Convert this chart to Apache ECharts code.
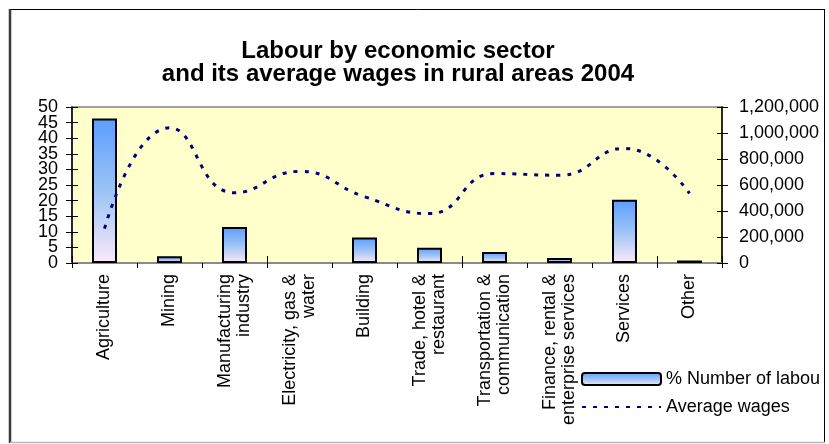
<!DOCTYPE html>
<html>
<head>
<meta charset="utf-8">
<script src="https://cdn.jsdelivr.net/npm/echarts@6/dist/echarts.min.js"></script>
<style>
  html, body { margin: 0; padding: 0; background: #ffffff; }
  #chart { width: 829px; height: 444px; }
</style>
</head>
<body>
<div id="chart"></div>
<script>
// Sectors shown along the category axis
const sectors = [
  'Agriculture',
  'Mining',
  'Manufacturing\nindustry',
  'Electricity, gas &\nwater',
  'Building',
  'Trade, hotel &\nrestaurant',
  'Transportation &\ncommunication',
  'Finance, rental &\nenterprise services',
  'Services',
  'Other'
];

// Share of rural labour force per sector (%)
const labourShare = [46.3, 2.2, 11.5, 0, 8.2, 4.9, 3.5, 1.6, 20.3, 0.8];

// Average wages per sector
const averageWages = [265000, 1040000, 540000, 705000, 510000, 380000, 688000, 675000, 882000, 535000];

// Axis ranges and steps
const shareAxis = { min: 0, max: 50, interval: 5 };
const wageAxis = { min: 0, max: 1200000, interval: 200000 };

const FONT = 'Liberation Sans, Arial, sans-serif';

const chart = echarts.init(document.getElementById('chart'), null, { renderer: 'canvas' });

const barFill = new echarts.graphic.LinearGradient(0, 0, 0, 1, [
  { offset: 0, color: '#5c9dff' },
  { offset: 0.5, color: '#9cc3f5' },
  { offset: 1, color: '#fbe9f8' }
]);

const GRID = { left: 72, right: 107, top: 107, bottom: 181 };

// Zero-height bars get no outline, so an empty sector stays empty
const shareBars = labourShare.map(v => (v === 0 ? { value: v, itemStyle: { borderWidth: 0 } } : v));

// The left scale labels sit closer than their height, so they are split
// across two coincident axes: even steps on one, odd steps on the other.
const isEvenStep = v => Math.round(v / shareAxis.interval) % 2 === 0;

const leftLabelStyle = {
  margin: 14,
  fontFamily: FONT,
  fontSize: 18,
  color: '#000000',
  hideOverlap: false,
  showMinLabel: true,
  showMaxLabel: true
};

chart.setOption({
  backgroundColor: '#ffffff',
  animation: false,
  title: {
    text: 'Labour by economic sector\nand its average wages in rural areas 2004',
    left: 398,
    top: 40,
    textAlign: 'center',
    padding: 0,
    textStyle: {
      fontFamily: FONT,
      fontSize: 24,
      fontWeight: 'bold',
      color: '#000000',
      lineHeight: 23
    }
  },
  grid: {
    left: GRID.left,
    right: GRID.right,
    top: GRID.top,
    bottom: GRID.bottom,
    show: true,
    backgroundColor: '#ffffcc',
    borderColor: '#a0a0a0',
    borderWidth: 2
  },
  legend: {
    orient: 'vertical',
    left: 581,
    top: 370,
    padding: 0,
    itemWidth: 79,
    itemHeight: 12,
    itemGap: 10,
    textStyle: {
      fontFamily: FONT,
      fontSize: 18,
      color: '#000000',
      width: 160,
      overflow: 'truncate',
      ellipsis: ''
    },
    data: [
      { name: '% Number of labour' },
      { name: 'Average wages', itemStyle: { opacity: 0 } }
    ]
  },
  xAxis: [
    {
      type: 'category',
      data: sectors,
      position: 'bottom',
      boundaryGap: true,
      axisLine: { show: true, lineStyle: { color: '#8a8a8a', width: 2 } },
      axisTick: { show: true, length: 5, lineStyle: { color: '#000000', width: 1 } },
      axisLabel: {
        rotate: 90,
        interval: 0,
        margin: 11,
        fontFamily: FONT,
        fontSize: 18,
        color: '#000000',
        lineHeight: 19,
        hideOverlap: false
      },
      splitLine: { show: false }
    },
    {
      // inner half of the crossing category ticks
      type: 'category',
      data: sectors,
      position: 'bottom',
      boundaryGap: true,
      axisLine: { show: false },
      axisTick: { show: true, inside: true, length: 7, lineStyle: { color: '#000000', width: 1 } },
      axisLabel: { show: false },
      splitLine: { show: false }
    }
  ],
  yAxis: [
    {
      type: 'value',
      position: 'left',
      min: shareAxis.min,
      max: shareAxis.max,
      interval: shareAxis.interval,
      axisLine: { show: true, lineStyle: { color: '#000000', width: 1.5 } },
      axisTick: { show: true, length: 6, lineStyle: { color: '#000000' } },
      axisLabel: Object.assign({}, leftLabelStyle, {
        formatter: v => (isEvenStep(v) ? String(v) : '')
      }),
      splitLine: { show: false }
    },
    {
      type: 'value',
      position: 'right',
      min: wageAxis.min,
      max: wageAxis.max,
      interval: wageAxis.interval,
      axisLine: { show: true, lineStyle: { color: '#000000', width: 1.5 } },
      axisTick: { show: true, length: 6, lineStyle: { color: '#000000' } },
      axisLabel: {
        margin: 17,
        fontFamily: FONT,
        fontSize: 18,
        color: '#000000',
        hideOverlap: false,
        formatter: v => v.toLocaleString('en-US')
      },
      splitLine: { show: false }
    },
    {
      // inner half of the crossing ticks on the left axis, plus odd-step labels
      type: 'value',
      position: 'left',
      min: shareAxis.min,
      max: shareAxis.max,
      interval: shareAxis.interval,
      axisLine: { show: false },
      axisTick: { show: true, inside: true, length: 6, lineStyle: { color: '#000000' } },
      axisLabel: Object.assign({}, leftLabelStyle, {
        inside: false,
        formatter: v => (isEvenStep(v) ? '' : String(v))
      }),
      splitLine: { show: false }
    },
    {
      // inner half of the crossing ticks on the right axis
      type: 'value',
      position: 'right',
      min: wageAxis.min,
      max: wageAxis.max,
      interval: wageAxis.interval,
      axisLine: { show: false },
      axisTick: { show: true, inside: true, length: 5, lineStyle: { color: '#000000' } },
      axisLabel: { show: false },
      splitLine: { show: false }
    }
  ],
  series: [
    {
      name: '% Number of labour',
      type: 'bar',
      xAxisIndex: 0,
      yAxisIndex: 0,
      data: shareBars,
      barWidth: 25,
      itemStyle: {
        color: barFill,
        borderColor: '#000000',
        borderWidth: 2
      },
      z: 2
    },
    {
      name: 'Average wages',
      type: 'line',
      xAxisIndex: 0,
      yAxisIndex: 1,
      data: averageWages,
      smooth: 0.5,
      symbol: 'none',
      lineStyle: { color: '#000080', width: 3, type: [4, 7] },
      itemStyle: { color: '#000080' },
      z: 3
    }
  ],
  graphic: [
    // outer chart frame
    { type: 'line', shape: { x1: 10, y1: 9.5, x2: 825, y2: 9.5 }, style: { stroke: '#000000', lineWidth: 1 }, z: 100 },
    { type: 'line', shape: { x1: 10, y1: 9, x2: 10, y2: 443 }, style: { stroke: '#3a3a3a', lineWidth: 2.5 }, z: 100 },
    { type: 'line', shape: { x1: 824.5, y1: 9, x2: 824.5, y2: 443 }, style: { stroke: '#000000', lineWidth: 1 }, z: 100 },
    { type: 'line', shape: { x1: 10, y1: 442.5, x2: 825, y2: 442.5 }, style: { stroke: '#b8b8b8', lineWidth: 1.5 }, z: 100 }
  ]
});
</script>
</body>
</html>
